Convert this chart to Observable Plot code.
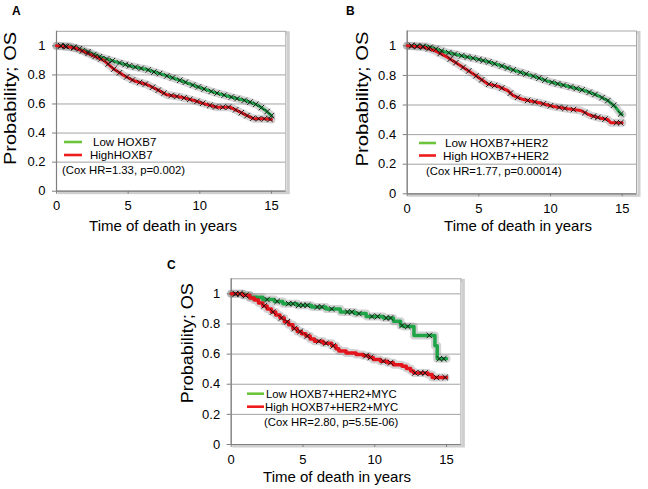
<!DOCTYPE html>
<html><head><meta charset="utf-8">
<script src="https://cdn.jsdelivr.net/npm/d3@7"></script>
<script src="https://cdn.jsdelivr.net/npm/@observablehq/plot@0.6"></script>
<style>
html,body{margin:0;padding:0;background:#fff;}
#root{position:relative;width:648px;height:489px;overflow:hidden;font-family:"Liberation Sans",Arial,sans-serif;}
.panel{position:absolute;}
</style></head><body><div id="root"></div>
<script>
// ---------- data ----------
const xTicks = [0, 5, 10, 15];
const yTicks = [0, 0.2, 0.4, 0.6, 0.8, 1];
const gridTicks = [0.2, 0.4, 0.6, 0.8, 1];
const xTitle = "Time of death in years";
const yTitle = "Probability; OS";

// Panel A
const labelsA = ["Low HOXB7", "HighHOXB7"];
const coxA = "(Cox HR=1.33, p=0.002)";
const lowA = [[0,1],[1,0.995],[1.9,0.968],[3.1,0.922],[4.2,0.888],[5.2,0.86],[6.3,0.837],[7.5,0.80],[8.7,0.76],[9.8,0.72],[11.0,0.68],[12.1,0.65],[13.3,0.62],[14.0,0.594],[14.6,0.555],[15.0,0.52]];
const highA = [[0,1],[1.0,0.99],[1.44,0.98],[2.4,0.94],[3.3,0.90],[4.0,0.84],[4.7,0.796],[5.4,0.76],[6.3,0.734],[7.0,0.70],[7.7,0.663],[8.7,0.647],[9.6,0.624],[10.5,0.596],[11.2,0.578],[12.1,0.578],[12.6,0.555],[13.3,0.52],[13.8,0.498],[14.5,0.498],[15.0,0.493]];
const lowCensA = [[0.3,1.0],[0.6,0.998],[1.2,0.99],[1.6,0.98],[2.2,0.96],[2.6,0.94],[3.0,0.925],[3.5,0.91],[3.9,0.898],[4.4,0.883],[4.8,0.872],[5.1,0.863],[5.5,0.854],[5.9,0.845],[6.4,0.834],[6.8,0.82],[7.2,0.81],[7.7,0.793],[8.1,0.78],[8.6,0.763],[9.0,0.75],[9.5,0.73],[9.9,0.717],[10.3,0.703],[10.8,0.687],[11.2,0.675],[11.7,0.661],[12.2,0.648],[12.6,0.637],[13.1,0.625],[13.5,0.613],[13.9,0.598],[14.3,0.575],[14.7,0.548],[15.0,0.52]];
const highCensA = [[0.3,1.0],[0.7,0.995],[1.2,0.985],[1.8,0.965],[2.2,0.948],[2.7,0.927],[3.1,0.91],[3.6,0.875],[4.0,0.84],[4.4,0.815],[4.9,0.786],[5.3,0.765],[5.8,0.748],[6.2,0.737],[6.7,0.715],[7.1,0.695],[7.5,0.674],[8.0,0.658],[8.4,0.652],[8.9,0.642],[9.3,0.632],[9.8,0.618],[10.2,0.605],[10.7,0.59],[11.1,0.58],[11.6,0.578],[12.0,0.578],[12.5,0.56],[12.9,0.54],[13.3,0.52],[13.7,0.502],[14.1,0.498],[14.5,0.498],[14.9,0.494]];

// Panel B
const labelsB = ["Low HOXB7+HER2", "High HOXB7+HER2"];
const coxB = "(Cox HR=1.77, p=0.00014)";
const lowB = [[0,1],[1.4,0.995],[2.6,0.96],[3.7,0.935],[4.9,0.91],[5.6,0.894],[6.5,0.867],[7.7,0.827],[8.8,0.795],[10.0,0.755],[11.2,0.727],[12.3,0.70],[13.3,0.664],[14.0,0.63],[14.5,0.59],[14.9,0.54],[15.0,0.535]];
const highB = [[0,1],[1.2,0.99],[1.9,0.968],[2.8,0.923],[3.7,0.867],[4.7,0.804],[5.6,0.743],[6.3,0.727],[7.0,0.698],[7.4,0.664],[8.1,0.637],[9.3,0.613],[10.2,0.59],[11.2,0.574],[12.1,0.563],[12.8,0.529],[13.5,0.511],[14.0,0.502],[14.2,0.48],[15.0,0.48]];
const lowCensB = [[0.3,1.0],[0.7,0.998],[1.1,0.996],[1.6,0.99],[2.0,0.978],[2.4,0.966],[2.9,0.953],[3.3,0.944],[3.8,0.933],[4.2,0.924],[4.6,0.916],[5.0,0.908],[5.3,0.90],[5.7,0.891],[6.1,0.879],[6.6,0.864],[7.0,0.85],[7.4,0.837],[7.9,0.821],[8.3,0.81],[8.8,0.795],[9.2,0.782],[9.6,0.768],[10.1,0.753],[10.5,0.743],[10.9,0.734],[11.4,0.722],[11.8,0.712],[12.2,0.702],[12.7,0.686],[13.1,0.671],[13.6,0.65],[14.0,0.63],[14.4,0.598],[14.9,0.54]];
const highCensB = [[0.3,1.0],[0.7,0.996],[1.1,0.991],[1.5,0.98],[2.3,0.948],[3.0,0.91],[3.4,0.886],[3.9,0.854],[4.3,0.83],[4.8,0.797],[5.2,0.77],[5.7,0.741],[6.1,0.732],[6.6,0.715],[7.2,0.68],[7.7,0.652],[8.4,0.631],[8.9,0.621],[9.5,0.608],[10.0,0.595],[10.6,0.584],[11.0,0.577],[11.6,0.569],[12.4,0.548],[13.0,0.524],[13.3,0.516],[13.8,0.505],[14.6,0.48],[14.9,0.48]];

// Panel C
const labelsC = ["Low HOXB7+HER2+MYC", "High HOXB7+HER2+MYC"];
const coxC = "(Cox HR=2.80, p=5.5E-06)";
const lowC = [[0,1],[0.9,0.99],[1.3,0.978],[2.2,0.962],[3.0,0.95],[3.6,0.935],[4.6,0.924],[5.6,0.913],[6.6,0.90],[7.6,0.88],[8.6,0.869],[9.4,0.85],[10.6,0.84],[11.3,0.818],[11.8,0.79],[12.0,0.784],[12.73,0.724],[14.19,0.656],[14.35,0.569],[15.0,0.569]];
const highC = [[0,1],[0.8,0.99],[1.3,0.973],[1.6,0.96],[1.9,0.94],[2.2,0.92],[2.5,0.9],[2.8,0.88],[3.1,0.86],[3.4,0.84],[3.7,0.815],[4.0,0.795],[4.3,0.77],[4.6,0.75],[4.9,0.735],[5.2,0.72],[5.5,0.70],[5.8,0.685],[6.4,0.672],[7.0,0.655],[7.3,0.635],[7.5,0.62],[8.0,0.608],[8.7,0.598],[9.2,0.59],[9.6,0.578],[9.9,0.565],[10.4,0.553],[10.9,0.543],[11.3,0.53],[11.9,0.52],[12.2,0.505],[12.5,0.488],[12.7,0.475],[13.7,0.465],[14.0,0.445],[15.0,0.445]];
const lowCensC = [[0.3,1],[0.6,1],[1.0,0.99],[2.5,0.962],[3.2,0.95],[4.0,0.935],[4.3,0.935],[4.7,0.924],[5.0,0.924],[5.3,0.924],[6.0,0.913],[6.3,0.913],[7.0,0.90],[8.1,0.88],[8.4,0.88],[8.9,0.869],[9.8,0.85],[10.2,0.85],[10.8,0.84],[11.1,0.84],[11.9,0.79],[12.3,0.784],[13.8,0.724],[14.5,0.569],[14.8,0.569]];
const highCensC = [[0.3,1],[0.6,1],[1.0,0.99],[2.3,0.92],[2.9,0.88],[3.5,0.84],[3.9,0.815],[4.4,0.77],[4.8,0.75],[5.3,0.72],[6.1,0.685],[6.6,0.672],[7.1,0.655],[9.4,0.59],[9.7,0.578],[10.6,0.553],[11.1,0.543],[12.8,0.475],[13.2,0.475],[13.5,0.475],[14.3,0.445],[14.9,0.445]];

// ---------- layout / styles ----------
const FONT = '"Liberation Sans", Arial, sans-serif';
const GREEN = "#1fa448", RED = "#e3141b", GREEN_LEG = "#6cc43a", RED_LEG = "#ee1c1c";

const panels = [
  {letter:"A", left:0, top:0, w:320, h:240, mL:56, mR:34.7, mT:30.8, mB:49.3,
   low:lowA, high:highA, lowCens:lowCensA, highCens:highCensA, labels:labelsA, cox:coxA, curve:"linear", lw:3,
   letterPos:[12,15], xt:[163,231], yt:[15.5,98.5,133],
   leg:{x0:64, x1:82, y0:142, y1:155, tx:[93,90], cx:62, cy:170, fs:11.5, cfs:11.3}},
  {letter:"B", left:320, top:0, w:328, h:240, mL:86.7, mR:12, mT:30.5, mB:46.7,
   low:lowB, high:highB, lowCens:lowCensB, highCens:highCensB, labels:labelsB, cox:coxB, curve:"linear", lw:3,
   letterPos:[346,15], xt:[518,231], yt:[368,99,135],
   leg:{x0:419, x1:436, y0:143, y1:155.5, tx:[445,443], cx:426, cy:171, fs:11.8, cfs:11.3}},
  {letter:"C", left:160, top:240, w:330, h:249, mL:70.7, mR:29.6, mT:38.3, mB:45,
   low:lowC, high:highC, lowCens:lowCensC, highCens:highCensC, labels:labelsC, cox:coxC, curve:"step-after", lw:3.5,
   letterPos:[167,269], xt:[337,482], yt:[192.5,343.3,120],
   leg:{x0:247, x1:264, y0:393.7, y1:406.7, tx:[266,265], cx:264, cy:421.7, fs:11.3, cfs:11.3}}
];

const root = document.getElementById("root");
const X = d => d[0], Y = d => d[1];

for (const p of panels) {
  const halo = (data) => Plot.line(data, {x:X, y:Y, curve:p.curve, stroke:"#777", strokeWidth:8, strokeOpacity:0.32, strokeDasharray:"1,1.2"});
  const plot = Plot.plot({
    width:p.w, height:p.h,
    marginLeft:p.mL, marginRight:p.mR, marginTop:p.mT, marginBottom:p.mB,
    x:{domain:[0,16]}, y:{domain:[0,1.1]},
    style:{fontFamily:FONT, color:"#000", background:"transparent", overflow:"visible"},
    marks:[
      Plot.frame({stroke:"#cfcfcf", strokeWidth:3, dx:2.5, dy:1.5}),
      Plot.frame({fill:"white", stroke:"none"}),
      Plot.gridY(gridTicks, {stroke:"#8c8c8c", strokeOpacity:1, strokeWidth:0.8}),
      Plot.frame({stroke:"#a8a8a8", strokeWidth:1}),
      Plot.ruleX([0], {stroke:"#7f7f7f", strokeWidth:1.2}),
      Plot.ruleY([0], {stroke:"#7f7f7f", strokeWidth:1.2}),
      Plot.axisY(yTicks, {tickSize:4, tickPadding:7, fontSize:13, stroke:"#7f7f7f", label:null, tickFormat:d => String(d)}),
      Plot.axisX(xTicks, {tickSize:3, tickPadding:7, fontSize:13, stroke:"#7f7f7f", label:null, tickFormat:d => String(d)}),
      halo(p.low), halo(p.high),
      Plot.line(p.low, {x:X, y:Y, curve:p.curve, stroke:GREEN, strokeWidth:p.lw}),
      Plot.line(p.high, {x:X, y:Y, curve:p.curve, stroke:RED, strokeWidth:p.lw}),
      Plot.dot(p.lowCens, {x:X, y:Y, symbol:"times", r:2.6, stroke:"#151515", strokeWidth:0.95}),
      Plot.dot(p.highCens, {x:X, y:Y, symbol:"times", r:2.6, stroke:"#151515", strokeWidth:0.95})
    ]
  });
  const div = document.createElement("div");
  div.className = "panel";
  div.style.left = p.left + "px"; div.style.top = p.top + "px";
  div.appendChild(plot);
  root.appendChild(div);

  const svg = d3.select(plot);
  const g = svg.append("g").attr("font-family", FONT).attr("fill", "#000").attr("text-anchor", "start");
  const ox = p.left, oy = p.top;
  g.append("text").text(p.letter).attr("x", p.letterPos[0]-ox).attr("y", p.letterPos[1]-oy)
    .attr("font-size", 12).attr("font-weight", "bold");
  g.append("text").text(xTitle).attr("x", p.xt[0]-ox).attr("y", p.xt[1]-oy)
    .attr("font-size", 15).attr("text-anchor", "middle");
  g.append("text").text(yTitle)
    .attr("transform", `translate(${p.yt[0]-ox},${p.yt[1]-oy}) rotate(-90)`)
    .attr("font-size", 16).attr("text-anchor", "middle")
    .attr("textLength", p.yt[2]).attr("lengthAdjust", "spacingAndGlyphs");
  const L = p.leg;
  g.append("line").attr("x1", L.x0-ox).attr("x2", L.x1-ox).attr("y1", L.y0-oy).attr("y2", L.y0-oy)
    .attr("stroke", GREEN_LEG).attr("stroke-width", 2.6);
  g.append("line").attr("x1", L.x0-ox).attr("x2", L.x1-ox).attr("y1", L.y1-oy).attr("y2", L.y1-oy)
    .attr("stroke", RED_LEG).attr("stroke-width", 2.6);
  g.append("text").text(p.labels[0]).attr("x", L.tx[0]-ox).attr("y", L.y0-oy)
    .attr("dy", "0.36em").attr("font-size", L.fs);
  g.append("text").text(p.labels[1]).attr("x", L.tx[1]-ox).attr("y", L.y1-oy)
    .attr("dy", "0.36em").attr("font-size", L.fs);
  g.append("text").text(p.cox).attr("x", L.cx-ox).attr("y", L.cy-oy)
    .attr("dy", "0.36em").attr("font-size", L.cfs);
}
</script></body></html>
